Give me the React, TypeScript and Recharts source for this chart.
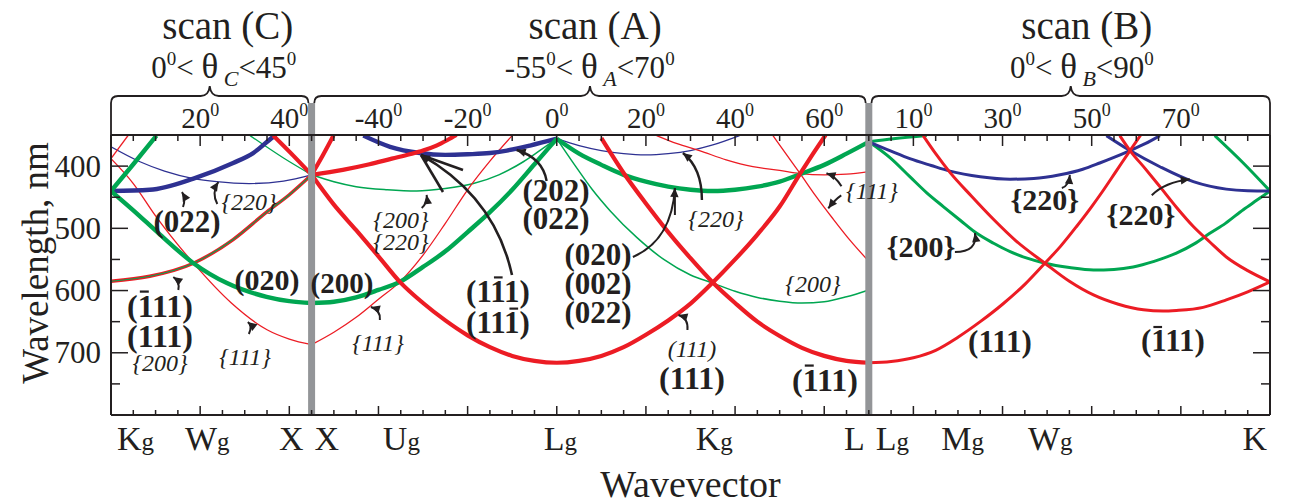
import React from 'react';
import { LineChart, Line, XAxis, YAxis, ReferenceLine, ReferenceDot } from 'recharts';

const RED = '#ec1c24';
const GREEN = '#00a651';
const BLUE = '#2e3192';
const GRAY = '#939598';
const INK = '#231f20';
const SERIF = '"Liberation Serif","Times New Roman",Times,serif';

// x = cumulative scan angle s (deg): scan C: s = θC ; scan A: s = θA + 100 ; scan B: s = θB + 170
// y = wavelength (nm)
// ---------------- scan (C) ----------------
const cBlueThick = [[0, 440], [8.7, 438], [18.5, 420], [27.4, 395], [31.9, 379], [36.4, 353], [37, 350]];
const cBlueThin = [[0, 369], [6.5, 393], [12, 408], [18.5, 420], [23.7, 425], [31, 428], [38.7, 424], [45, 414]];
const cGreenThickDown = [[0, 440], [5, 471], [11, 510], [18.5, 556], [26, 588], [34.9, 610], [40, 617], [45, 620]];
const cGreenThickUp = [[0, 440], [5, 397], [10.2, 351]];
const cRedThinDown = [[0, 388], [5, 428], [10, 480], [18.5, 556], [27, 620], [35, 663], [40, 678], [45, 687]];
const cRedThinUp = [[0, 388], [3.9, 350]];
const cRedGreenPair = [[0, 585], [8.7, 577], [18.5, 556], [27.4, 518], [34.9, 474], [40, 446], [45, 414]];
const cRedThickTop = [[36.4, 351], [41, 384], [45, 414]];
const cGreenThinTop = [[31.2, 351], [38.7, 387], [45, 414]];
// ---------------- scan (A) ----------------
const aRedThickUp = [[45, 414], [52, 406], [58, 397], [63, 388], [67, 381], [70, 375], [73, 367], [75.5, 358], [77.5, 350]];
const aRedThickSteep = [[45, 414], [47.5, 383], [49.9, 351]];
const aRedThickMinLg = [[45, 414], [50, 462], [55, 503], [60, 545], [64.8, 586], [70, 620], [75, 648], [80, 672], [85, 691], [90, 705], [95, 713], [100, 716], [105, 713], [110, 705], [115, 691], [120, 671], [125, 648], [130, 621], [135, 587], [140, 550], [145, 510], [150, 465], [154.6, 412], [157.5, 380], [160.3, 350]];
const aRedThickMinL = [[110, 355], [115, 411], [120, 460], [125, 506], [130, 548], [135, 587], [140, 620], [145, 650], [150, 673], [155, 692], [160, 705], [165, 713], [170, 716]];
const aBlueThick = [[56.6, 351], [62.6, 369], [69.3, 379], [75, 382], [80, 381], [85, 379], [88.8, 375], [94, 367], [100, 356]];
const aBlueThin = [[100, 356], [105, 367], [110, 375], [115, 380], [120, 382], [125, 380], [130, 375], [135, 366], [141, 351]];
const aGreenThinLeft = [[45, 414], [50, 425], [55, 433], [62, 438], [68.6, 440], [75, 436], [81.3, 428], [87, 414], [92.5, 393], [96, 376], [100, 356]];
const aGreenThickLeft = [[45, 620], [50, 618], [55, 611], [60, 599], [64.8, 586], [70, 562], [75, 537], [80, 506], [85, 474], [90, 438], [95, 397], [100, 356]];
const aRedThinLeft = [[45, 687], [50, 667], [55, 643], [60, 614], [64.8, 586], [70, 543], [75, 492], [80, 438], [85, 392], [90, 351]];
const aGreenThickRight = [[100, 356], [105, 380], [110, 398], [115, 414], [120, 425], [125, 433], [130, 438], [135, 440], [140, 438], [145, 433], [150, 425], [154.6, 413], [160, 398], [165, 380], [170, 361]];
const aGreenThinRight = [[100, 356], [104, 398], [108, 438], [112, 472], [118, 515], [124, 550], [130, 575], [135, 588], [140, 601], [145, 611], [150, 617], [155, 620], [160, 618], [165, 610], [170, 599]];
const aRedThinShallow = [[122.4, 351], [127, 364], [132, 375], [138, 390], [144, 401], [150, 407], [154.6, 412], [160, 414], [165, 413], [170, 409]];
const aRedThinSteep = [[148.5, 351], [151.5, 381], [154.6, 412], [158, 447], [162, 485], [166, 521], [170, 553]];
// ---------------- scan (B) ----------------
const bGreenTop = [[170, 361], [175.5, 356], [183, 351]];
const bGreenMin = [[170, 361], [175, 388], [179.2, 417], [183, 443], [186.7, 465], [190.5, 487], [194.2, 508], [198, 524], [201.7, 537.5], [205.5, 548], [209.5, 556], [215, 563], [220.4, 567], [225, 566], [229.3, 562], [234, 553], [239, 540], [243, 525], [246.5, 508], [250, 492], [254, 470], [257, 455], [260, 440]];
const bGreenK = [[247.6, 351], [254, 395], [260, 440]];
const bBlueMin = [[170, 361], [175, 376], [179.2, 388], [184, 399], [188.2, 408], [195, 417], [201.7, 421], [207, 420], [212.9, 414], [218, 405], [221.8, 395], [225, 386], [228.6, 375], [232, 364], [235.3, 351]];
const bBlueK = [[223.3, 351], [228.6, 375], [235.3, 401], [242.8, 425], [250.2, 437], [255, 439.5], [260, 440]];
const bRed111 = [[170, 716], [175, 714], [180, 708], [185, 696], [190, 675], [195, 650], [200, 622], [205, 590], [209.5, 556], [213, 529], [216.6, 497], [220, 465], [222.3, 442], [225.5, 408], [228.6, 375], [231, 350]];
const bRedBar111 = [[182.2, 351], [185, 380], [188.2, 410], [193, 448], [197.9, 485], [203, 520], [209.5, 556], [215, 585], [220.4, 607], [226, 622], [231.6, 631], [236, 633], [239, 632], [245, 627], [250.2, 615], [255, 602], [260, 586]];
const bRedK = [[226.3, 351], [228.6, 375], [232, 404], [235.3, 433], [239, 466], [242.8, 497], [246.5, 522], [250.2, 546], [255, 568], [260, 586]];

// axis tick values / labels
const xMinorTicks = Array.from({ length: 53 }, (_, i) => i * 5);
const yTicks = [350, 400, 450, 500, 550, 600, 650, 700, 750, 800];
const yTickLabels = [400, 500, 600, 700];
const topTickPos = [20, 40, 60, 80, 100, 120, 140, 160, 180, 200, 220, 240];
const topTickText = ['20', '40', '-40', '-20', '0', '20', '40', '60', '10', '30', '50', '70'];
const pointPos = [0, 18.5, 45, 45, 64.8, 100, 135, 170, 170, 190.5, 209.5, 260];
const pointMain = ['K', 'W', 'X', 'X', 'U', 'L', 'K', 'L', 'L', 'M', 'W', 'K'];
const pointSub = ['g', 'g', '', '', 'g', 'g', 'g', '', 'g', 'g', 'g', ''];

const toPts = (a: number[][]) => a.map(([s, l]) => ({ s, l }));

const SERIES: { d: number[][]; c: string; w: number }[] = [
  { d: cGreenThinTop, c: GREEN, w: 1.3 },
  { d: cBlueThin, c: BLUE, w: 1.3 },
  { d: cRedThinDown, c: RED, w: 1.3 },
  { d: cRedThinUp, c: RED, w: 1.3 },
  { d: aBlueThin, c: BLUE, w: 1.3 },
  { d: aGreenThinLeft, c: GREEN, w: 1.5 },
  { d: aRedThinLeft, c: RED, w: 1.3 },
  { d: aGreenThinRight, c: GREEN, w: 1.5 },
  { d: aRedThinShallow, c: RED, w: 1.3 },
  { d: aRedThinSteep, c: RED, w: 1.3 },
  { d: cRedGreenPair, c: RED, w: 3.4 },
  { d: cRedGreenPair, c: GREEN, w: 1.1 },
  { d: cBlueThick, c: BLUE, w: 4.4 },
  { d: cGreenThickDown, c: GREEN, w: 4.4 },
  { d: cGreenThickUp, c: GREEN, w: 4.4 },
  { d: cRedThickTop, c: RED, w: 4.2 },
  { d: aBlueThick, c: BLUE, w: 4.4 },
  { d: aRedThickUp, c: RED, w: 4.2 },
  { d: aRedThickSteep, c: RED, w: 4.2 },
  { d: aGreenThickLeft, c: GREEN, w: 4.4 },
  { d: aGreenThickRight, c: GREEN, w: 4.4 },
  { d: aRedThickMinLg, c: RED, w: 4.2 },
  { d: aRedThickMinL, c: RED, w: 4.2 },
  { d: bGreenTop, c: GREEN, w: 3 },
  { d: bGreenMin, c: GREEN, w: 3 },
  { d: bGreenK, c: GREEN, w: 3 },
  { d: bBlueMin, c: BLUE, w: 3 },
  { d: bBlueK, c: BLUE, w: 3 },
  { d: bRed111, c: RED, w: 3 },
  { d: bRedBar111, c: RED, w: 3 },
  { d: bRedK, c: RED, w: 3 },
];

// annotation texts: anchor (s, λ) = visual centre of the first line; further lines offset in px
type Ln = { t: string; k: 'b' | 'i'; f: number; bars?: number[]; off?: number };
type Lab = { s: number; l: number; lines: Ln[] };
const LABELS: Lab[] = [
  { s: 17.05, l: 489.8, lines: [{ t: '(022)', k: 'b', f: 31 }] },
  { s: 30.96, l: 457.7, lines: [{ t: '{220}', k: 'i', f: 24 }] },
  { s: 34.99, l: 583, lines: [{ t: '(020)', k: 'b', f: 30 }] },
  { s: 10.99, l: 624.8, lines: [{ t: '(111)', k: 'b', f: 32, bars: [1] }, { t: '(111)', k: 'b', f: 32, off: 30 }, { t: '{200}', k: 'i', f: 24, off: 57 }] },
  { s: 30.06, l: 706.8, lines: [{ t: '{111}', k: 'i', f: 24 }] },
  { s: 51.82, l: 587.8, lines: [{ t: '(200)', k: 'b', f: 29 }] },
  { s: 65.05, l: 487, lines: [{ t: '{200}', k: 'i', f: 24 }, { t: '{220}', k: 'i', f: 24, off: 21.5 }] },
  { s: 59.89, l: 684.3, lines: [{ t: '{111}', k: 'i', f: 24 }] },
  { s: 99.82, l: 439, lines: [{ t: '(202)', k: 'b', f: 31 }, { t: '(022)', k: 'b', f: 31, off: 28.3 }] },
  { s: 86.81, l: 601.3, lines: [{ t: '(111)', k: 'b', f: 31, bars: [2] }, { t: '(111)', k: 'b', f: 31, bars: [3], off: 31.2 }] },
  { s: 109.24, l: 542, lines: [{ t: '(020)', k: 'b', f: 31 }, { t: '(002)', k: 'b', f: 31, off: 29.5 }, { t: '(022)', k: 'b', f: 31, off: 58.2 }] },
  { s: 135.71, l: 485, lines: [{ t: '{220}', k: 'i', f: 24 }] },
  { s: 130.33, l: 694, lines: [{ t: '(111)', k: 'i', f: 24 }, { t: '(111)', k: 'b', f: 32, off: 28.9 }] },
  { s: 157.47, l: 589.4, lines: [{ t: '{200}', k: 'i', f: 24 }] },
  { s: 160.16, l: 743.7, lines: [{ t: '(111)', k: 'b', f: 32, bars: [1] }] },
  { s: 170.7, l: 440, lines: [{ t: '{111}', k: 'i', f: 24 }] },
  { s: 181.7, l: 530, lines: [{ t: '{200}', k: 'b', f: 30 }] },
  { s: 209.5, l: 454.5, lines: [{ t: '{220}', k: 'b', f: 30 }] },
  { s: 231.05, l: 478.6, lines: [{ t: '{220}', k: 'b', f: 30 }] },
  { s: 199.42, l: 682.6, lines: [{ t: '(111)', k: 'b', f: 31 }] },
  { s: 238.22, l: 681, lines: [{ t: '(111)', k: 'b', f: 31, bars: [1] }] },
];

// arrows: tip at (s, λ); tail / control as pixel offsets from tip
type Arw = { s: number; l: number; tail: [number, number]; ctrl?: [number, number]; head?: boolean; w?: number };
const ARROWS: Arw[] = [
  { s: 15.93, l: 441.6, tail: [1, 15], ctrl: [4, 7] },
  { s: 24.07, l: 425.5, tail: [-1, 22], ctrl: [-7, 11] },
  { s: 13.98, l: 578.2, tail: [5, 13], ctrl: [7, 5] },
  { s: 30.7, l: 650.5, tail: [1, 12], ctrl: [5, 4] },
  { s: 70.82, l: 446.4, tail: [-5, 13], ctrl: [1, 8] },
  { s: 58.3, l: 626.4, tail: [9, 13], ctrl: [10, 3] },
  { s: 69.54, l: 382.1, tail: [42, 15], head: false, w: 2.6 },
  { s: 69.54, l: 382.1, tail: [22, 37], head: false, w: 2.6 },
  { s: 69.54, l: 382.1, tail: [91, 120], ctrl: [74, 42], w: 2.6 },
  { s: 91.0, l: 374.1, tail: [30, 31], ctrl: [26, 8], w: 2.4 },
  { s: 126.5, l: 435.2, tail: [-42, 69], ctrl: [-3, 52], w: 2 },
  { s: 126.5, l: 435.2, tail: [0, 27], head: false, w: 2 },
  { s: 128.3, l: 378.9, tail: [19, 47], ctrl: [19, 15], w: 2.4 },
  { s: 127.3, l: 639.3, tail: [9, 15], ctrl: [10, 3] },
  { s: 160.5, l: 411.5, tail: [15, 13], ctrl: [9, 3] },
  { s: 160.9, l: 467.8, tail: [13, -13], ctrl: [7, -9] },
  { s: 193.8, l: 507.5, tail: [-20, 19], ctrl: [3, 19] },
  { s: 215.1, l: 414.3, tail: [-8, 13], ctrl: [-1, 11] },
  { s: 242.0, l: 421.2, tail: [-38, 16], ctrl: [-25, 3] },
];

const BOTTOM_STYLE: { a: 'start' | 'end'; dx: number }[] = [
  { a: 'start', dx: 6 }, { a: 'start', dx: -8.5 }, { a: 'end', dx: -8 }, { a: 'start', dx: 3 },
  { a: 'start', dx: -17 }, { a: 'start', dx: -13 }, { a: 'start', dx: -17 }, { a: 'end', dx: -4 },
  { a: 'start', dx: 7 }, { a: 'start', dx: -19 }, { a: 'start', dx: -17 }, { a: 'end', dx: -3 },
];

const CW: Record<string, Record<string, number>> = {
  b: { '(': 0.333, ')': 0.333, '{': 0.394, '}': 0.394 },
  i: { '(': 0.333, ')': 0.333, '{': 0.4, '}': 0.4 },
};
const cw = (ch: string, k: string) => CW[k][ch] ?? 0.5;

function TextLab({ cx, cy, lab }: { cx: number; cy: number; lab: Lab }) {
  const bars: React.ReactNode[] = [];
  lab.lines.forEach((ln, li) => {
    const f = ln.f;
    const base = cy + (ln.off || 0) + 0.33 * f;
    const ws = [...ln.t].map((ch) => cw(ch, ln.k) * f);
    const total = ws.reduce((a, b) => a + b, 0);
    const x0 = cx - total / 2;
    (ln.bars || []).forEach((i) => {
      const xs = x0 + ws.slice(0, i).reduce((a, b) => a + b, 0);
      const yb = base - 0.78 * f;
      bars.push(<line key={li + '-' + i} x1={xs + 0.12 * f} x2={xs + ws[i] - 0.1 * f} y1={yb} y2={yb} stroke={INK} strokeWidth={0.07 * f} />);
    });
  });
  return (
    <g>
      <text textAnchor="middle" fontFamily={SERIF} fill={INK}>
        {lab.lines.map((ln, li) => (
          <tspan key={li} x={cx} y={cy + (ln.off || 0) + 0.33 * ln.f} fontSize={ln.f}
            fontWeight={ln.k === 'b' ? 'bold' : 'normal'} fontStyle={ln.k === 'i' ? 'italic' : 'normal'}>
            {ln.t}
          </tspan>
        ))}
      </text>
      {bars}
    </g>
  );
}

function ArrowShape({ tx, ty, a }: { tx: number; ty: number; a: Arw }) {
  const x0 = tx + a.tail[0];
  const y0 = ty + a.tail[1];
  const c = a.ctrl ? [tx + a.ctrl[0], ty + a.ctrl[1]] : null;
  const d = c ? `M${x0},${y0} Q${c[0]},${c[1]} ${tx},${ty}` : `M${x0},${y0} L${tx},${ty}`;
  const fx = c ? c[0] : x0;
  const fy = c ? c[1] : y0;
  let ux = tx - fx;
  let uy = ty - fy;
  const L = Math.hypot(ux, uy) || 1;
  ux /= L;
  uy /= L;
  const hl = 9;
  const hw = 4.2;
  const bx = tx - ux * hl;
  const by = ty - uy * hl;
  const poly = `${tx},${ty} ${bx - uy * hw},${by + ux * hw} ${bx + uy * hw},${by - ux * hw}`;
  return (
    <g>
      <path d={d} fill="none" stroke={INK} strokeWidth={a.w ?? 2} />
      {a.head !== false && <polygon points={poly} fill={INK} />}
    </g>
  );
}

const BottomTick = (p: any) => {
  const v = p.payload.value;
  if (v <= 0 || v >= 260) return <g />;
  const len = v % 20 === 0 ? 9 : 5;
  return <line x1={p.x} x2={p.x} y1={p.y} y2={p.y - len} stroke={INK} strokeWidth={1.5} />;
};

const TopTick = (p: any) => {
  const v = p.payload.value;
  if (v <= 0 || v >= 260) return <g />;
  const len = v % 20 === 0 ? 11 : 6;
  const idx = topTickPos.indexOf(v);
  return (
    <g>
      <line x1={p.x} x2={p.x} y1={p.y} y2={p.y + len} stroke={INK} strokeWidth={1.5} />
      {idx >= 0 && (
        <text x={p.x} y={p.y - 7} textAnchor="middle" fontFamily={SERIF} fontSize={29} fill={INK}>
          <tspan>{topTickText[idx]}</tspan>
          <tspan fontSize={18} dy={-12}>0</tspan>
        </text>
      )}
    </g>
  );
};

const LeftTick = (p: any) => {
  const v = p.payload.value;
  if (v <= 350 || v >= 800) return <g />;
  const major = v % 100 === 0;
  return (
    <g>
      <line x1={p.x} x2={p.x + (major ? 17 : 9)} y1={p.y} y2={p.y} stroke={INK} strokeWidth={1.5} />
      {yTickLabels.includes(v) && (
        <text x={p.x - 10} y={p.y + 10.5} textAnchor="end" fontFamily={SERIF} fontSize={31} fill={INK}>{v}</text>
      )}
    </g>
  );
};

const RightTick = (p: any) => {
  const v = p.payload.value;
  if (v <= 350 || v >= 800) return <g />;
  const major = v % 100 === 0;
  return <line x1={p.x} x2={p.x - (major ? 17 : 9)} y1={p.y} y2={p.y} stroke={INK} strokeWidth={1.5} />;
};

const braceShape = (dropL: number, dropR: number) => (p: any) => {
  const xa = Math.min(p.x1, p.x2);
  const xb = Math.max(p.x1, p.x2);
  const top = Math.min(p.y1, p.y2);
  const hb = top - 39;
  const tip = top - 49;
  const xm = (xa + xb) / 2;
  const r = 7;
  const d = `M${xa},${top - dropL} L${xa},${hb + r} Q${xa},${hb} ${xa + r},${hb} L${xm - 9},${hb} Q${xm - 1},${hb} ${xm},${tip}` +
    ` Q${xm + 1},${hb} ${xm + 9},${hb} L${xb - r},${hb} Q${xb},${hb} ${xb},${hb + r} L${xb},${top - dropR}`;
  return <path d={d} fill="none" stroke={INK} strokeWidth={1.8} />;
};

const grayShape = (p: any) => {
  const t = Math.min(p.y1, p.y2);
  const b = Math.max(p.y1, p.y2);
  return <line x1={p.x1} x2={p.x2} y1={t - 32} y2={b + 1} stroke={GRAY} strokeWidth={7} />;
};

const TITLES = [
  { s: 26.2, t: 'scan (C)' },
  { s: 108.6, t: 'scan (A)' },
  { s: 218.9, t: 'scan (B)' },
];
const RANGES = [
  { s: 25.3, lo: '0', sub: 'C', hi: '45' },
  { s: 107.4, lo: '-55', sub: 'A', hi: '70' },
  { s: 217.8, lo: '0', sub: 'B', hi: '90' },
];

export default function App() {
  const ax = { xAxisId: 'b', yAxisId: 'l' } as const;
  return (
    <div style={{ position: 'absolute', left: 0, top: 0, width: 1293, height: 504, background: '#fff' }}>
      <LineChart width={1293} height={504} margin={{ top: 105, right: 22, bottom: 59, left: 61 }}>
        <XAxis xAxisId="b" dataKey="s" type="number" domain={[0, 260]} allowDataOverflow ticks={xMinorTicks}
          interval={0} orientation="bottom" height={30} tickSize={0} tickMargin={0} tick={<BottomTick />}
          axisLine={{ stroke: INK, strokeWidth: 2 }} tickLine={false} />
        <XAxis xAxisId="t" dataKey="s" type="number" domain={[0, 260]} allowDataOverflow ticks={xMinorTicks}
          interval={0} orientation="top" height={30} tickSize={0} tickMargin={0} tick={<TopTick />}
          axisLine={{ stroke: INK, strokeWidth: 2 }} tickLine={false} />
        <YAxis yAxisId="l" type="number" domain={[350, 800]} reversed allowDataOverflow ticks={yTicks} interval={0}
          width={50} tickSize={0} tickMargin={0} tick={<LeftTick />} axisLine={{ stroke: INK, strokeWidth: 2 }} tickLine={false} />
        <YAxis yAxisId="r" orientation="right" type="number" domain={[350, 800]} reversed allowDataOverflow ticks={yTicks}
          interval={0} width={1} tickSize={0} tickMargin={0} tick={<RightTick />} axisLine={{ stroke: INK, strokeWidth: 2 }} tickLine={false} />

        {SERIES.map((sr, i) => (
          <Line key={i} {...ax} data={toPts(sr.d)} dataKey="l" type="monotone" dot={false} activeDot={false}
            stroke={sr.c} strokeWidth={sr.w} isAnimationActive={false} />
        ))}

        <ReferenceLine {...ax} x={45} ifOverflow="visible" shape={grayShape} />
        <ReferenceLine {...ax} x={170} ifOverflow="visible" shape={grayShape} />

        <ReferenceLine {...ax} ifOverflow="visible" segment={[{ x: 0, y: 350 }, { x: 44.3, y: 350 }]} shape={braceShape(0, 32)} />
        <ReferenceLine {...ax} ifOverflow="visible" segment={[{ x: 45.6, y: 350 }, { x: 169.3, y: 350 }]} shape={braceShape(32, 32)} />
        <ReferenceLine {...ax} ifOverflow="visible" segment={[{ x: 170.6, y: 350 }, { x: 260, y: 350 }]} shape={braceShape(32, 0)} />

        {TITLES.map((t, i) => (
          <ReferenceDot key={'t' + i} {...ax} x={t.s} y={350} r={1} ifOverflow="visible"
            shape={(p: any) => (
              <text x={p.cx} y={p.cy - 96} textAnchor="middle" fontFamily={SERIF} fontSize={39} fill={INK}>{t.t}</text>
            )} />
        ))}
        {RANGES.map((t, i) => (
          <ReferenceDot key={'r' + i} {...ax} x={t.s} y={350} r={1} ifOverflow="visible"
            shape={(p: any) => (
              <text x={p.cx} y={p.cy - 57} textAnchor="middle" fontFamily={SERIF} fontSize={31} fill={INK}>
                <tspan>{t.lo}</tspan>
                <tspan fontSize={19} dy={-13}>0</tspan>
                <tspan dy={13}>{'< '}</tspan>
                <tspan fontSize={35}>θ</tspan>
                <tspan fontSize={22} fontStyle="italic" dy={8}>{' ' + t.sub}</tspan>
                <tspan dy={-8}>{'<' + t.hi}</tspan>
                <tspan fontSize={19} dy={-13}>0</tspan>
              </text>
            )} />
        ))}

        {pointPos.map((s, i) => (
          <ReferenceDot key={'p' + i} {...ax} x={s} y={800} r={1} ifOverflow="visible"
            shape={(p: any) => (
              <text x={p.cx + BOTTOM_STYLE[i].dx} y={p.cy + 35} textAnchor={BOTTOM_STYLE[i].a} fontFamily={SERIF} fontSize={34} fill={INK}>
                <tspan>{pointMain[i]}</tspan>
                {pointSub[i] && <tspan fontSize={25}>{pointSub[i]}</tspan>}
              </text>
            )} />
        ))}

        <ReferenceDot {...ax} x={130} y={800} r={1} ifOverflow="visible"
          shape={(p: any) => (
            <text x={p.cx} y={p.cy + 82} textAnchor="middle" fontFamily={SERIF} fontSize={38} fill={INK}>Wavevector</text>
          )} />
        <ReferenceDot {...ax} x={0} y={555.7} r={1} ifOverflow="visible"
          shape={(p: any) => (
            <text x={p.cx - 63} y={p.cy} transform={`rotate(-90 ${p.cx - 63} ${p.cy})`} textAnchor="middle"
              fontFamily={SERIF} fontSize={37} fill={INK}>Wavelength, nm</text>
          )} />

        {LABELS.map((lab, i) => (
          <ReferenceDot key={'l' + i} {...ax} x={lab.s} y={lab.l} r={1} ifOverflow="visible"
            shape={(p: any) => <TextLab cx={p.cx} cy={p.cy} lab={lab} />} />
        ))}
        {ARROWS.map((a, i) => (
          <ReferenceDot key={'a' + i} {...ax} x={a.s} y={a.l} r={1} ifOverflow="visible"
            shape={(p: any) => <ArrowShape tx={p.cx} ty={p.cy} a={a} />} />
        ))}
      </LineChart>
    </div>
  );
}
